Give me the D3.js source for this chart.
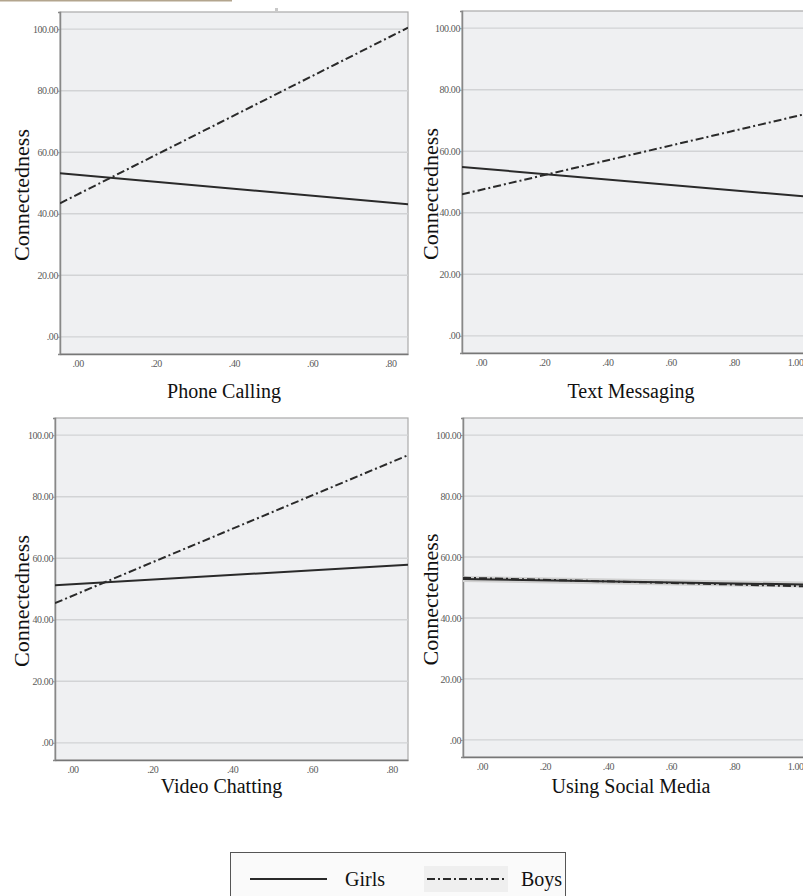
<!DOCTYPE html>
<html>
<head>
  <meta charset="utf-8">
  <title>Connectedness by gender</title>
  <script src="https://cdn.jsdelivr.net/npm/d3@7"></script>
  <style>
    body { margin: 0; background: #fff; }
    svg { display: block; }
    svg text { -webkit-font-smoothing: antialiased; }
  </style>
</head>
<body>
  <script>
  // values
  var titles = ["Phone Calling", "Text Messaging", "Video Chatting", "Using Social Media"];
  var yTicks = [0, 20, 40, 60, 80, 100];
  var xTicksShort = [0, 0.2, 0.4, 0.6, 0.8];
  var xTicksLong = [0, 0.2, 0.4, 0.6, 0.8, 1.0];
  var xDomains = [[-0.045, 0.845], [-0.06, 1.06], [-0.044, 0.841], [-0.06, 1.06]];
  // lines: value at the left and right edge of each panel
  var girlsStart = [53.2, 54.9, 51.2, 52.8];
  var girlsEnd   = [43.1, 45.0, 57.9, 50.9];
  var boysStart  = [43.4, 46.0, 45.4, 53.2];
  var boysEnd    = [100.5, 72.9, 93.5, 50.3];
  var legendNames = ["Girls", "Boys"];

  var width = 803, height = 896;
  var svg = d3.select("body").append("svg")
      .attr("width", width)
      .attr("height", height);

  // plot frames (layout)
  var frames = [
    {x: 60,  y: 12,  w: 348, h: 342, lx: 29,  ty: 398},
    {x: 462, y: 11,  w: 354, h: 342, lx: 438, ty: 398},
    {x: 55,  y: 418, w: 353, h: 342, lx: 29,  ty: 793},
    {x: 463, y: 418, w: 353, h: 339, lx: 438, ty: 793}
  ];

  // little artefacts at the top of the page
  svg.append("rect").attr("x", 0).attr("y", 0).attr("width", 232).attr("height", 1.5).attr("fill", "#b3a58e");
  svg.append("rect").attr("x", 275).attr("y", 8).attr("width", 3).attr("height", 3).attr("fill", "#c8c8c8");

  var fmt = function(v) {
    var s = d3.format(".2f")(v);
    return s.indexOf("0.") === 0 ? s.slice(1) : s;
  };

  var dash = "8,3,2,3";

  frames.forEach(function(f, i) {
    var x = d3.scaleLinear().domain(xDomains[i]).range([f.x, f.x + f.w]);
    var y = d3.scaleLinear().domain([-5.6, 105.6]).range([f.y + f.h, f.y]);
    var g = svg.append("g");

    g.append("rect")
      .attr("x", f.x).attr("y", f.y).attr("width", f.w).attr("height", f.h)
      .attr("fill", "#eff0f2").attr("stroke", "#aaa").attr("stroke-width", 1.2);

    // gridlines
    g.selectAll(".grid").data(yTicks).enter().append("line")
      .attr("x1", f.x).attr("x2", f.x + f.w)
      .attr("y1", function(d) { return y(d); })
      .attr("y2", function(d) { return y(d); })
      .attr("stroke", "#d2d3d5").attr("stroke-width", 1.3);

    // y axis
    var ya = g.append("g")
      .attr("transform", "translate(" + f.x + ",0)")
      .call(d3.axisLeft(y).tickValues(yTicks).tickSize(2).tickFormat(fmt));
    ya.select(".domain").attr("stroke", "#888").attr("stroke-width", 1.5);
    ya.selectAll(".tick line").attr("stroke", "#999");
    ya.selectAll("text").attr("fill", "#5a5a5a").attr("font-family", "Liberation Serif")
      .attr("font-size", 10).attr("x", -2)
      .style("letter-spacing", "-0.4px");

    // x axis
    var xt = (i % 2 === 0) ? xTicksShort : xTicksLong;
    var xa = g.append("g")
      .attr("transform", "translate(0," + (f.y + f.h) + ")")
      .call(d3.axisBottom(x).tickValues(xt).tickSize(0).tickFormat(fmt));
    xa.select(".domain").attr("stroke", "#777").attr("stroke-width", 1.5);
    xa.selectAll("text").attr("fill", "#5a5a5a").attr("font-family", "Liberation Serif")
      .attr("font-size", 10).attr("y", 6)
      .style("letter-spacing", "-0.4px");
    // keep the last "1.00" inside the page
    xa.selectAll(".tick").filter(function(d) { return d === 1; })
      .select("text").attr("text-anchor", "end").attr("dx", 6);

    // clip lines to frame
    var clipId = "clip" + i;
    svg.append("clipPath").attr("id", clipId).append("rect")
      .attr("x", f.x).attr("y", f.y).attr("width", f.w).attr("height", f.h);

    var line = d3.line().x(function(d) { return x(d[0]); }).y(function(d) { return y(d[1]); });
    var girls = [[xDomains[i][0], girlsStart[i]], [xDomains[i][1], girlsEnd[i]]];
    var boys = [[xDomains[i][0], boysStart[i]], [xDomains[i][1], boysEnd[i]]];
    var lg = g.append("g").attr("clip-path", "url(#" + clipId + ")");

    if (i === 3) {
      // light halo around the nearly identical lines
      lg.append("path").attr("d", line(girls)).attr("fill", "none")
        .attr("stroke", "#d0d0d0").attr("stroke-width", 6);
    }
    lg.append("path").attr("d", line(boys)).attr("fill", "none")
      .attr("stroke", "#2a2a2a").attr("stroke-width", 2).attr("stroke-dasharray", dash);
    lg.append("path").attr("d", line(girls)).attr("fill", "none")
      .attr("stroke", "#2a2a2a").attr("stroke-width", 2);

    // axis titles
    g.append("text")
      .attr("transform", "translate(" + f.lx + "," + (f.y + f.h / 2 + 12) + ") rotate(-90)")
      .attr("text-anchor", "middle")
      .attr("font-family", "Liberation Serif").attr("font-size", 22)
      .attr("fill", "#111")
      .text("Connectedness");

    g.append("text")
      .attr("x", i % 2 === 0 ? f.x + f.w / 2 - 10 : 631)
      .attr("y", f.ty)
      .attr("text-anchor", "middle")
      .attr("font-family", "Liberation Serif").attr("font-size", 20)
      .attr("fill", "#111")
      .text(titles[i]);
  });

  // legend
  var leg = svg.append("g");
  leg.append("rect").attr("x", 230.5).attr("y", 852.5).attr("width", 335).attr("height", 50)
    .attr("fill", "#fafafa").attr("stroke", "#555").attr("stroke-width", 1);
  leg.append("rect").attr("x", 424).attr("y", 866).attr("width", 84).attr("height", 26)
    .attr("fill", "#efefef");
  var legItems = [
    {x1: 250, x2: 327, tx: 345, dash: null},
    {x1: 427, x2: 505, tx: 521, dash: dash}
  ];
  legItems.forEach(function(it, k) {
    leg.append("line").attr("x1", it.x1).attr("x2", it.x2).attr("y1", 879).attr("y2", 879)
      .attr("stroke", "#2a2a2a").attr("stroke-width", 2)
      .attr("stroke-dasharray", it.dash);
    leg.append("text").attr("x", it.tx).attr("y", 886)
      .attr("font-family", "Liberation Serif").attr("font-size", 20).attr("fill", "#111")
      .text(legendNames[k]);
  });
  </script>
</body>
</html>
